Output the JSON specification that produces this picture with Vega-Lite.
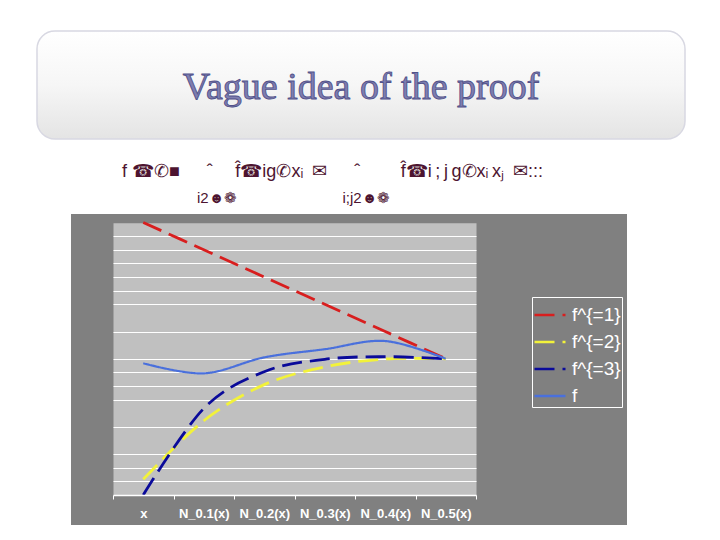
{
  "$schema": "https://vega.github.io/schema/vega-lite/v6.json",
  "background": "white",
  "padding": {"left": 36, "top": 30, "right": 5, "bottom": 5},
  "spacing": 23,
  "config": {"view": {"stroke": null}},
  "datasets": {
    "lines": [
      {"series": "f^{=1}", "pt": "x", "v": 20},
      {"series": "f^{=1}", "pt": "N_0.1(x)", "v": 18},
      {"series": "f^{=1}", "pt": "N_0.2(x)", "v": 16},
      {"series": "f^{=1}", "pt": "N_0.3(x)", "v": 14},
      {"series": "f^{=1}", "pt": "N_0.4(x)", "v": 12},
      {"series": "f^{=1}", "pt": "N_0.5(x)", "v": 10},
      {"series": "f^{=2}", "pt": "x", "v": 1.15},
      {"series": "f^{=2}", "pt": "N_0.1(x)", "v": 5.45},
      {"series": "f^{=2}", "pt": "N_0.2(x)", "v": 8.1},
      {"series": "f^{=2}", "pt": "N_0.3(x)", "v": 9.4},
      {"series": "f^{=2}", "pt": "N_0.4(x)", "v": 9.98},
      {"series": "f^{=2}", "pt": "N_0.5(x)", "v": 10},
      {"series": "f^{=3}", "pt": "x", "v": 0},
      {"series": "f^{=3}", "pt": "N_0.1(x)", "v": 6.35},
      {"series": "f^{=3}", "pt": "N_0.2(x)", "v": 9.05},
      {"series": "f^{=3}", "pt": "N_0.3(x)", "v": 9.96},
      {"series": "f^{=3}", "pt": "N_0.4(x)", "v": 10.15},
      {"series": "f^{=3}", "pt": "N_0.5(x)", "v": 10},
      {"series": "f", "pt": "x", "v": 9.67},
      {"series": "f", "pt": "N_0.1(x)", "v": 8.93},
      {"series": "f", "pt": "N_0.2(x)", "v": 10.1},
      {"series": "f", "pt": "N_0.3(x)", "v": 10.7},
      {"series": "f", "pt": "N_0.4(x)", "v": 11.3},
      {"series": "f", "pt": "N_0.5(x)", "v": 10}
    ]
  },
  "vconcat": [
    {
      "width": 648,
      "height": 108,
      "view": {
        "fill": {"gradient": "linear", "x1": 0, "y1": 0, "x2": 0, "y2": 1,
          "stops": [{"offset": 0, "color": "#ffffff"}, {"offset": 0.5, "color": "#f6f6f6"}, {"offset": 1, "color": "#e4e4e4"}]},
        "cornerRadius": 18,
        "stroke": "#d8d8e2",
        "strokeWidth": 1.5
      },
      "data": {"values": [{"heading": "Vague idea of the proof"}]},
      "mark": {"type": "text", "font": "Liberation Serif", "fontSize": 38, "fill": "#7e7eb0", "stroke": "#52528a", "strokeWidth": 0.9, "baseline": "alphabetic", "align": "center", "dy": 14},
      "encoding": {"text": {"field": "heading"}}
    },
    {
      "spacing": 0,
      "hconcat": [
        {"width": 34, "height": 311, "data": {"values": []}, "mark": "point"},
        {
          "width": 556,
          "height": 311,
          "view": {"fill": "#808080", "stroke": null},
          "title": {
            "text": "f ☎✆■\u2003\u2002ˆ\u2003\u2005f̂☎ig✆xᵢ\u2002✉\u2003\u2002ˆ\u2003\u2003\u2005f̂☎i\u2009;\u2009j\u2009g✆xᵢ\u2009xⱼ\u2002✉:::",
            "subtitle": "\u200b\u2003\u2003\u2003\u2003\u2003i2☻❁\u2003\u2003\u2003\u2003\u2003\u2003\u2003i;j2☻❁",
            "anchor": "start",
            "frame": "group",
            "dx": 51,
            "offset": 8,
            "font": "Liberation Sans",
            "fontSize": 18,
            "fontWeight": "normal",
            "color": "#4d1430",
            "subtitleFont": "Liberation Sans",
            "subtitleFontSize": 15,
            "subtitleColor": "#4d1430",
            "subtitlePadding": 10
          },
          "data": {"name": "lines"},
          "layer": [
            {
              "transform": [{"filter": "datum.series !== 'f'"}],
              "mark": {"type": "line", "interpolate": "cardinal", "strokeWidth": 2.8},
              "encoding": {
                "x": {"field": "pt", "type": "nominal",
                  "scale": {"type": "band", "domain": ["x", "N_0.1(x)", "N_0.2(x)", "N_0.3(x)", "N_0.4(x)", "N_0.5(x)"], "range": [42, 405], "paddingInner": 0, "paddingOuter": 0},
                  "axis": null},
                "y": {"field": "v", "type": "quantitative",
                  "scale": {"domain": [0, 20], "range": [281, 8.5], "nice": false, "zero": false},
                  "axis": {"orient": "left", "title": null, "labels": false, "ticks": false, "domain": false, "grid": true, "gridColor": "#c0c0c0", "gridWidth": 272.5, "gridOpacity": 1, "values": [10]}},
                "color": {"field": "series", "type": "nominal",
                  "scale": {"domain": ["f^{=1}", "f^{=2}", "f^{=3}", "f"], "range": ["#d81e1e", "#f2f23a", "#0a0a9a", "#4a70dc"]},
                  "legend": {"orient": "none", "legendX": 495, "legendY": 266, "title": null, "fillColor": "#808080", "strokeColor": "white", "padding": 1, "rowPadding": 0, "labelColor": "white", "labelFont": "Liberation Sans", "labelFontSize": 19, "symbolType": "stroke", "symbolSize": 961, "symbolStrokeWidth": 2.5, "labelOffset": 5}},
                "strokeDash": {"field": "series", "type": "nominal",
                  "scale": {"domain": ["f^{=1}", "f^{=2}", "f^{=3}", "f"], "range": [[20, 8], [20, 8], [20, 8], [1, 0]]},
                  "legend": {"orient": "none", "legendX": 495, "legendY": 266, "title": null, "fillColor": "#808080", "strokeColor": "white", "padding": 1, "rowPadding": 0, "labelColor": "white", "labelFont": "Liberation Sans", "labelFontSize": 19, "symbolType": "stroke", "symbolSize": 961, "symbolStrokeWidth": 2.5, "labelOffset": 5}}
              }
            },
            {
              "transform": [{"filter": "datum.series === 'f'"}],
              "mark": {"type": "line", "interpolate": "cardinal", "strokeWidth": 2.2},
              "encoding": {
                "x": {"field": "pt", "type": "nominal",
                  "scale": {"type": "band", "domain": ["x", "N_0.1(x)", "N_0.2(x)", "N_0.3(x)", "N_0.4(x)", "N_0.5(x)"], "range": [42, 405], "paddingInner": 0, "paddingOuter": 0},
                  "axis": {"orient": "bottom", "offset": -30, "zindex": 1, "title": null, "grid": false, "ticks": true, "tickBand": "extent", "tickColor": "white", "tickSize": 4, "domain": true, "domainColor": "white", "domainWidth": 1.5, "labelColor": "white", "labelFont": "Liberation Sans", "labelFontSize": 13, "labelFontWeight": "bold", "labelPadding": 8, "labelAngle": 0}},
                "y": {"field": "v", "type": "quantitative",
                  "scale": {"domain": [0, 20], "range": [281, 8.5], "nice": false, "zero": false},
                  "axis": {"orient": "left", "title": null, "labels": false, "ticks": false, "domain": false, "grid": true, "gridColor": "white", "gridWidth": 1, "gridOpacity": 1, "values": [1, 2, 3, 5, 7, 8, 9, 10, 12, 14, 15, 16, 17, 18, 19]}},
                "color": {"field": "series", "type": "nominal",
                  "scale": {"domain": ["f^{=1}", "f^{=2}", "f^{=3}", "f"], "range": ["#d81e1e", "#f2f23a", "#0a0a9a", "#4a70dc"]},
                  "legend": {"orient": "none", "legendX": 495, "legendY": 266, "title": null, "fillColor": "#808080", "strokeColor": "white", "padding": 1, "rowPadding": 0, "labelColor": "white", "labelFont": "Liberation Sans", "labelFontSize": 19, "symbolType": "stroke", "symbolSize": 961, "symbolStrokeWidth": 2.5, "labelOffset": 5}},
                "strokeDash": {"field": "series", "type": "nominal",
                  "scale": {"domain": ["f^{=1}", "f^{=2}", "f^{=3}", "f"], "range": [[20, 8], [20, 8], [20, 8], [1, 0]]},
                  "legend": {"orient": "none", "legendX": 495, "legendY": 266, "title": null, "fillColor": "#808080", "strokeColor": "white", "padding": 1, "rowPadding": 0, "labelColor": "white", "labelFont": "Liberation Sans", "labelFontSize": 19, "symbolType": "stroke", "symbolSize": 961, "symbolStrokeWidth": 2.5, "labelOffset": 5}}
              }
            }
          ],
          "resolve": {"axis": {"x": "independent", "y": "independent"}}
        }
      ]
    }
  ]
}
